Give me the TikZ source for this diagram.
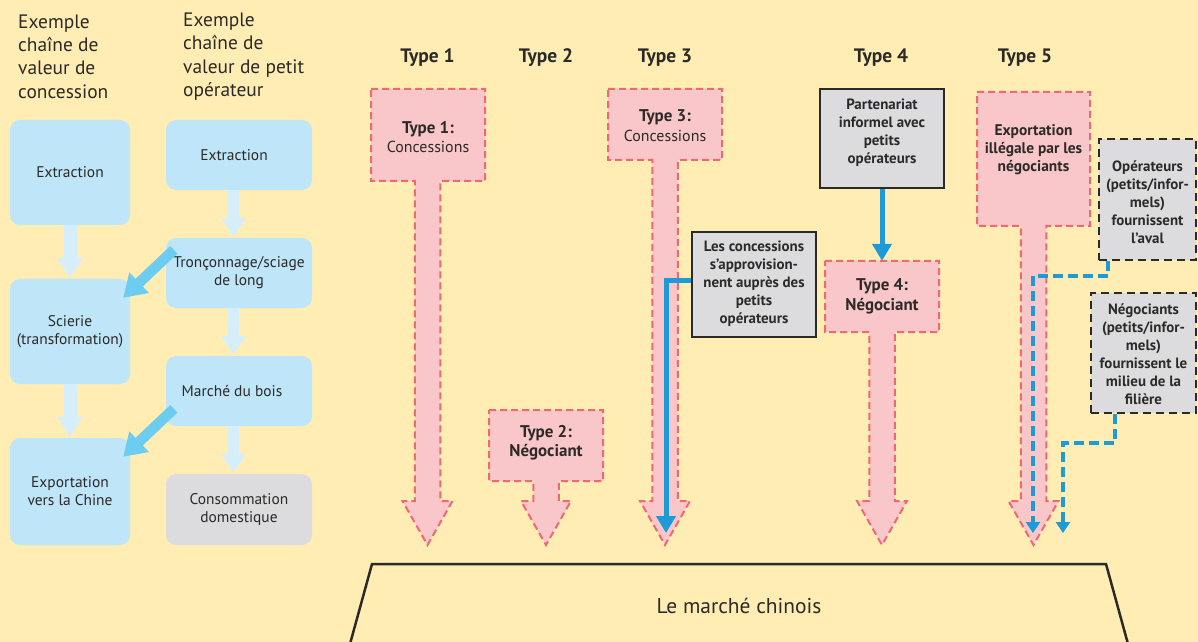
\documentclass[tikz,border=0pt]{standalone}
\usepackage{fontspec}
\setmainfont{PT Sans}
\usetikzlibrary{arrows.meta,calc}
\definecolor{cBg}{HTML}{FFEDB4}
\definecolor{cPinkF}{HTML}{F9C6CA}
\definecolor{cPinkL}{HTML}{EE6A72}
\definecolor{cLBlue}{HTML}{BEE5F8}
\definecolor{cGrey}{HTML}{DCDCDE}
\definecolor{cTxt}{HTML}{2B2A28}
\definecolor{cBlue}{HTML}{1E9BD7}
\definecolor{cVArr}{HTML}{D5EEFA}
\definecolor{cDArr}{HTML}{6DCDF1}
\tikzset{
 lbox/.style={fill=cLBlue, rounded corners=10bp, inner sep=2bp, align=center,
   font=\fontsize{15.5}{18}\selectfont, text=cTxt},
 gybox/.style={fill=cGrey, rounded corners=10bp, inner sep=2bp, align=center,
   font=\fontsize{15.5}{18}\selectfont, text=cTxt},
 gbox/.style={fill=cGrey, draw=cTxt, line width=2.3bp, inner sep=0},
 gdbox/.style={fill=cGrey, draw=cTxt, line width=2.3bp, dash pattern=on 8bp off 5bp, inner sep=0},
 gtext/.style={align=center, font=\bfseries\fontsize{15}{18}\selectfont, text=cTxt, inner sep=0},
 ptext/.style={align=center, font=\fontsize{16}{19.5}\selectfont, text=cTxt, inner sep=0},
 pbtext/.style={align=center, font=\bfseries\fontsize{17}{19.5}\selectfont, text=cTxt, inner sep=0},
 headtext/.style={align=left, font=\fontsize{19.5}{23.5}\selectfont, text=cTxt, inner sep=0, anchor=west},
 typehead/.style={font=\bfseries\fontsize{19.5}{20}\selectfont, text=cTxt, inner sep=0},
 varr/.style={draw=cVArr, line width=13bp, -{Triangle[width=25bp,length=20bp]}},
 darr/.style={draw=cDArr, line width=10.5bp, -{Triangle[width=27bp,length=22bp]}},
 barr/.style={draw=cBlue, line width=5bp, -{Triangle[width=19bp,length=17bp]}},
 bdarr/.style={draw=cBlue, line width=4bp, dash pattern=on 10bp off 5bp, -{Triangle[width=14bp,length=11bp]}},
 pshape/.style={fill=cPinkF, draw=cPinkL, line width=2bp, dash pattern=on 7bp off 4bp, line join=miter},
}
\newcommand\pinkarrow[6]{%
 \path[pshape] (#1,#3) -- (#2,#3) -- (#2,#4) -- ({#5+12.75},#4) -- ({#5+12.75},{#6-44})
   -- ({#5+25},{#6-44}) -- (#5,#6) -- ({#5-25},{#6-44}) -- ({#5-12.75},{#6-44})
   -- ({#5-12.75},#4) -- (#1,#4) -- cycle;}
\begin{document}
\begin{tikzpicture}[x=1bp,y=-1bp]
\useasboundingbox[fill=cBg] (0,0) rectangle (1198,642);

% ---- left: headers
\node[headtext] (h1) at (18,56.5) {Exemple\\chaîne de\\valeur de\\concession};
\node[headtext] (h2) at (183,56.5) {Exemple\\chaîne de\\valeur de petit\\opérateur};

% ---- left column boxes
\node[lbox, minimum width=120bp, minimum height=105bp] (ext1) at (70,172.5) {Extraction};
\node[lbox, minimum width=120bp, minimum height=105bp] (sci) at (70,331.5) {Scierie\\(transformation)};
\node[lbox, minimum width=120bp, minimum height=107bp] (exp) at (70,491.5) {Exportation\\vers la Chine};

\node[lbox, minimum width=146bp, minimum height=70bp] (ext2) at (239,155) {\hspace*{-10bp}Extraction};
\node[lbox, minimum width=146bp, minimum height=70bp] (tron) at (239,273) {Tronçonnage/sciage\\de long};
\node[lbox, minimum width=146bp, minimum height=70bp] (march) at (239,391) {\hspace*{-14bp}Marché du bois};
\node[gybox, minimum width=146bp, minimum height=71bp] (conso) at (239,509.5) {Consommation\\domestique};

\draw[varr] (ext1.south) -- ([yshift=1bp]sci.north);
\draw[varr] (sci.south) -- ([yshift=1bp]exp.north);
\draw[varr, line width=11bp, -{Triangle[width=24bp,length=19bp]}] ([xshift=-5.5bp]ext2.south) -- ([xshift=-5.5bp,yshift=1bp]tron.north);
\draw[varr, line width=11bp, -{Triangle[width=24bp,length=19bp]}] ([xshift=-5.5bp]tron.south) -- ([xshift=-5.5bp,yshift=1bp]march.north);
\draw[varr, line width=11bp, -{Triangle[width=24bp,length=19bp]}] ([xshift=-5.5bp]march.south) -- ([xshift=-5.5bp,yshift=1bp]conso.north);

\draw[darr] ($(tron.north west)+(8,12)$) -- ($(sci.north east)+(-7,19)$);
\draw[darr] ($(march.north west)+(8,53)$) -- ($(exp.north east)+(-7,19)$);

% ---- type headings
\node[typehead] (th1) at (427.5,58) {Type 1};
\node[typehead] (th2) at (546,58) {Type 2};
\node[typehead] (th3) at (665,58) {Type 3};
\node[typehead] (th4) at (881,58) {Type 4};
\node[typehead] (th5) at (1025,58) {Type 5};

% ---- pink arrows
\pinkarrow{371}{485}{89}{181}{427.5}{545}
\pinkarrow{489}{603}{410}{481}{546}{545}
\pinkarrow{608}{722}{89}{160}{665}{545}
\pinkarrow{825}{939}{261}{332}{882}{545}
\pinkarrow{977}{1090}{92}{226}{1033.5}{545}

\node[ptext] (t1) at (428,137) {\textbf{\fontsize{17}{19.5}\selectfont Type 1:}\\Concessions};
\node[pbtext] (t2) at (546,443) {Type 2:\\Négociant};
\node[ptext] (t3) at (665,125.5) {\textbf{\fontsize{17}{19.5}\selectfont Type 3:}\\Concessions};
\node[pbtext, minimum width=114bp, minimum height=71bp] (t4) at (882,296.5) {Type 4:\\Négociant};
\node[gtext, font=\bfseries\fontsize{15.5}{18}\selectfont] (t5) at (1033.5,149.5) {Exportation\\illégale par les\\négociants};

% ---- grey boxes
\node[gbox, minimum width=124bp, minimum height=105bp] (g3) at (754,284.5) {};
\node[gtext] (g3t) at (754,284) {Les concessions\\s’approvision-\\nent auprès des\\petits\\opérateurs};
\node[gbox, minimum width=124bp, minimum height=99bp] (g4) at (882,138.5) {};
\node[gtext] (g4t) at (882,133) {Partenariat\\informel avec\\petits\\opérateurs};
\node[gdbox, minimum width=97bp, minimum height=121bp] (op) at (1147.5,199.5) {};
\node[gtext] (opt) at (1147.5,202.5) {Opérateurs\\(petits/infor-\\mels)\\fournissent\\l’aval};
\node[gdbox, minimum width=105bp, minimum height=120bp] (ng) at (1143.5,353) {};
\node[gtext] (ngt) at (1143.5,354) {Négociants\\(petits/infor-\\mels)\\fournissent le\\milieu de la\\filière};

% ---- blue connectors
\coordinate (tip3) at (666,533);
\coordinate (tip5a) at (1033,533);
\coordinate (tip5b) at (1063,533);
\draw[barr] ([yshift=3.5bp]g3.west) -| (tip3);
\draw[barr] (g4.south) -- (t4.north);
\draw[bdarr] ([xshift=10bp]op.south west) -- ++(0,15) -| (tip5a);
\draw[bdarr] ([xshift=25bp]ng.south west) -- ++(0,29) -| (tip5b);

% ---- Chinese market
\draw[line width=2.5bp, draw=cTxt, line join=miter] (350,644) -- (372,564) -- (1106,564) -- (1128,644);
\node[font=\fontsize{21.5}{24}\selectfont, text=cTxt, inner sep=0] (mkt) at (739,606) {Le marché chinois};
\end{tikzpicture}
\end{document}
